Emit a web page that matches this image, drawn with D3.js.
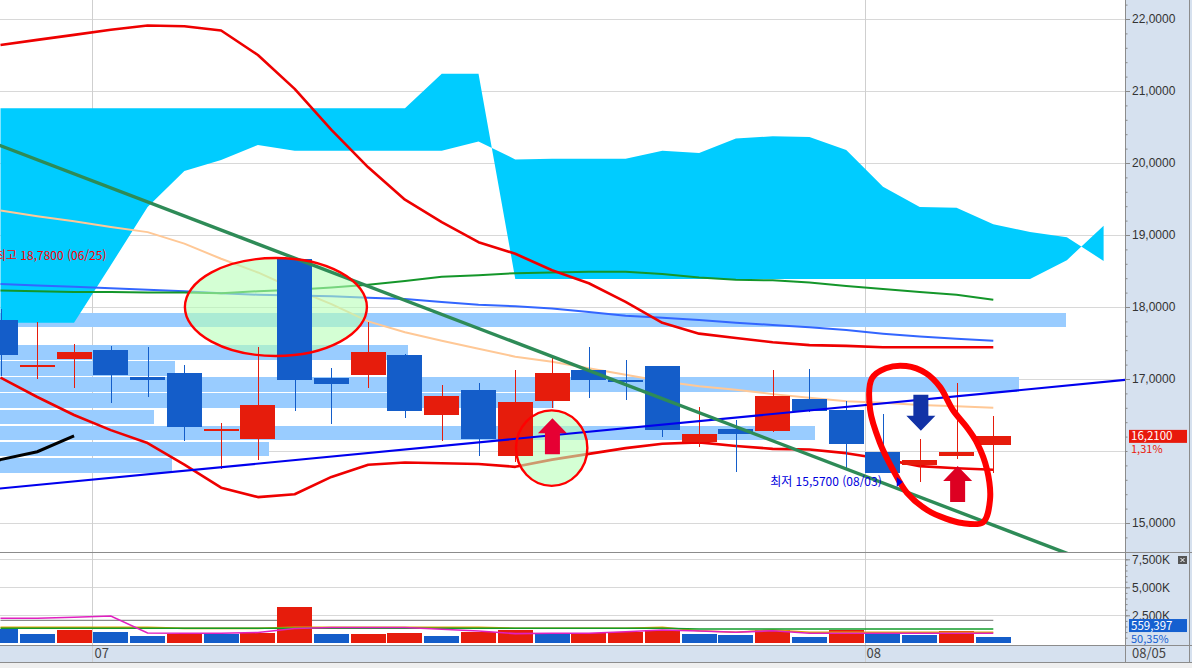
<!DOCTYPE html>
<html lang="ko">
<head>
<meta charset="UTF-8">
<title>Daily chart</title>
<script src="https://d3js.org/d3.v7.min.js"></script>
<style>
    html, body { margin: 0; padding: 0; background: #fff; overflow: hidden; }
    svg { display: block; font-family: "Noto Sans CJK KR", "Noto Sans", sans-serif; }
    .axis text { font-size: 12px; fill: #333; }
    .axis line { stroke: #888; }
</style>
</head>
<body>
<div id="chart"></div>
<script>
// ---- data ----
var dates = ["06/27","06/28","06/29","07/02","07/03","07/04","07/06","07/09","07/10","07/11",
             "07/12","07/13","07/16","07/17","07/18","07/19","07/20","07/23","07/24","07/25",
             "07/26","07/27","07/30","07/31","08/01","08/02","08/03","08/05"];
var open  = [17.82,17.19,17.28,17.40,17.03,17.08,16.30,16.16,18.67,17.01,17.05,17.33,16.50,16.85,15.93,16.69,17.13,16.99,17.18,16.12,16.31,16.28,16.72,16.57,15.99,15.80,15.93,16.08];
var high  = [17.97,17.79,17.49,17.46,17.44,17.19,16.39,17.44,18.67,17.15,17.79,17.35,16.92,16.94,17.13,17.29,17.44,17.26,17.18,16.61,16.43,17.13,17.14,16.69,16.51,16.16,16.95,16.48];
var low   = [17.04,17.00,16.88,16.67,16.75,16.14,15.75,15.88,16.55,16.38,16.87,16.46,16.14,15.93,15.85,16.60,16.73,16.71,16.20,16.05,15.71,16.26,16.54,15.77,15.70,15.57,15.89,15.69];
var close = [17.33,17.20,17.38,17.05,16.98,16.34,16.31,16.64,16.99,16.93,17.38,16.56,16.76,16.17,16.68,17.08,16.98,16.96,16.29,16.24,16.23,16.76,16.56,16.10,15.70,15.88,15.99,16.21];

// volume in thousands
var prevVolume = 1400;
var volume = [1277,830,1188,1009,652,857,850,920,3241,810,840,920,652,1009,1188,830,893,982,1188,830,770,1214,562,1188,830,741,1098,559.397];
var volMa5  = [2232,2232,2321,2438,920,893,893,964,1321,1411,1411,1411,1250,1098,866,893,893,1036,1188,1098,982,1125,893,893,893,893,893,893];
var volMa20 = [1429,1429,1429,1429,1429,1330,1330,1330,1429,1429,1429,1429,1429,1429,1339,1339,1339,1339,1429,1125,982,1188,982,982,982,982,982,982];
var volMa60 = [1339,1339,1339,1339,1339,1339,1339,1339,1339,1339,1339,1339,1339,1339,1339,1339,1339,1339,1339,1277,1277,1277,1277,1277,1277,1277,1277,1277];
var volLevel = 2054;

// envelope and moving averages
var bandUpper = [21.64,21.71,21.78,21.85,21.91,21.90,21.84,21.50,21.03,20.46,19.94,19.49,19.18,18.90,18.74,18.51,18.33,18.07,17.78,17.63,17.57,17.51,17.47,17.46,17.44,17.44,17.44,17.44];
var bandLower = [17.02,16.75,16.50,16.29,16.11,15.81,15.49,15.36,15.40,15.64,15.81,15.84,15.83,15.82,15.78,15.88,15.96,16.04,16.10,16.12,16.07,16.03,16.02,15.97,15.89,15.79,15.76,15.74];
var maBlue  = [18.32,18.30,18.28,18.26,18.24,18.22,18.19,18.17,18.16,18.15,18.13,18.11,18.07,18.03,18.01,17.98,17.93,17.88,17.85,17.82,17.78,17.75,17.72,17.68,17.63,17.59,17.56,17.53];
var maGreen = [18.23,18.22,18.21,18.21,18.20,18.20,18.19,18.22,18.24,18.27,18.31,18.36,18.42,18.44,18.47,18.48,18.49,18.49,18.46,18.41,18.38,18.37,18.34,18.29,18.25,18.21,18.17,18.10];
var maPeach = [19.34,19.26,19.19,19.11,19.04,18.88,18.67,18.48,18.25,18.04,17.80,17.65,17.53,17.42,17.31,17.24,17.15,17.06,16.97,16.90,16.85,16.79,16.74,16.69,16.67,16.64,16.62,16.60];
var laggingShift = 25;

// ichimoku cloud (runs 3 bars past the last candle)
var spanA = [17.78,17.78,17.78,18.58,19.39,19.89,20.04,20.25,20.17,20.17,20.17,20.17,20.17,20.30,20.05,20.06,20.06,20.06,20.17,20.14,20.34,20.37,20.36,20.18,19.67,19.39,19.38,19.15,19.04,18.97,18.64];
var spanB = [20.76,20.76,20.76,20.76,20.76,20.76,20.76,20.76,20.76,20.76,20.76,20.76,21.24,21.24,18.39,18.39,18.39,18.39,18.39,18.39,18.39,18.39,18.39,18.39,18.39,18.39,18.39,18.39,18.39,18.65,19.13];

// volume-by-price bars (bottom bin first)
var profileFrom = 15.69, profileTo = 17.93;
var profile = [16.1,25.2,76.5,14.4,52,95.6,16.4,38.3,0,100];

// trend lines (candle index, price)
var trendBlue  = [{i: 0, v: 15.48}, {i: 27, v: 16.81}];
var trendGreen = [{i: 0, v: 20.24}, {i: 27, v: 14.97}];

// ticks and labels
var priceTicks = [15,16,17,18,19,20,21,22];
var volTicks = [2500,5000,7500];
var periodHigh = {value: 18.78, date: "06/25"};
var periodLow  = {value: 15.57, date: "08/03"};
var changePct = "1,31%";
var volumeRaw = "559,397";
var volumePct = "50,35%";
var cursorDate = "08/05";

// hand-drawn annotations in (candle index, price)
var ellipses = [{cx: 7.49, cy: 18.00, rx: 2.475, ry: 0.68}, {cx: 14.99, cy: 16.04, rx: 0.97, ry: 0.524}];
var loop = [[23.70,17.01],[24.08,17.15],[24.63,17.18],[25.17,17.08],[25.55,16.89],[25.90,16.57],[26.28,16.33],
            [26.56,16.11],[26.83,15.74],[26.91,15.32],[26.72,15.01],[26.15,15.00],[25.71,15.06],[25.20,15.18],
            [24.65,15.42],[24.27,15.74],[23.92,16.11],[23.65,16.57]];
var arrows = [
    {i: 15.01, v: 16.455, dir: -1, color: "#e60033"},
    {i: 25.03, v: 16.28, dir: 1, color: "#1232a6"},
    {i: 26.03, v: 15.79, dir: -1, color: "#dd0022"}
];

// ---- layout ----
var W = 1192, H = 668;
var plotRight = 1125;
var paneSplit = 552, volBottom = 645, axisBottom = 662;
var RED = "#e61c0c", BLUE = "#145dc9";
var fmtPrice = function (d) { return d3.format(".4f")(d).replace(".", ","); };

var x = d3.scaleLinear().domain([0, 27]).range([0.5, 993.3]);
var y = d3.scaleLinear().domain([15, 22]).range([523, 19]);
var yv = d3.scaleLinear().domain([0, 7500]).range([643.3, 559.3]);
var barW = 35;

var svg = d3.select("#chart").append("svg").attr("width", W).attr("height", H);
var defs = svg.append("defs");
defs.append("clipPath").attr("id", "clipPrice").append("rect")
    .attr("x", 0).attr("y", 0).attr("width", plotRight).attr("height", paneSplit);
defs.append("clipPath").attr("id", "clipVol").append("rect")
    .attr("x", 0).attr("y", paneSplit).attr("width", plotRight).attr("height", volBottom - paneSplit);

// backgrounds
svg.append("rect").attr("width", W).attr("height", H).attr("fill", "#fff");
svg.append("rect").attr("x", plotRight).attr("y", 0).attr("width", W - plotRight).attr("height", axisBottom).attr("fill", "#d6e1ef");
svg.append("rect").attr("x", 0).attr("y", volBottom).attr("width", W).attr("height", axisBottom - volBottom).attr("fill", "#d6e1ef");
svg.append("rect").attr("x", 0).attr("y", axisBottom).attr("width", W).attr("height", H - axisBottom).attr("fill", "#efefef");

// grid
var grid = svg.append("g").attr("stroke", "#d8d8d8").attr("shape-rendering", "crispEdges");
grid.selectAll(".hp").data(priceTicks).join("line")
    .attr("x1", 0).attr("x2", plotRight).attr("y1", d => Math.round(y(d)) + 0.5).attr("y2", d => Math.round(y(d)) + 0.5);
grid.selectAll(".hv").data(volTicks).join("line")
    .attr("x1", 0).attr("x2", plotRight).attr("y1", d => Math.round(yv(d)) + 0.5).attr("y2", d => Math.round(yv(d)) + 0.5);
var monthStarts = [];
dates.forEach(function (d, i) {
    if (i > 0 && d.slice(0, 2) !== dates[i - 1].slice(0, 2)) monthStarts.push(i);
});
grid.selectAll(".vm").data(monthStarts).join("line")
    .attr("x1", d => Math.round(x(d - 0.5)) + 0.5).attr("x2", d => Math.round(x(d - 0.5)) + 0.5)
    .attr("y1", 0).attr("y2", axisBottom).attr("stroke", "#cfcfcf");

// ---- price pane, drawn in layers ----
var price = svg.append("g").attr("clip-path", "url(#clipPrice)");
var layerBands = price.append("g");
var layerCloud = price.append("g");
var layerLines = price.append("g");
var layerFill = price.append("g");
var layerCandles = price.append("g");
var layerTrend = price.append("g");
var layerAnno = price.append("g");

// volume-by-price bars
var binSize = (profileTo - profileFrom) / profile.length;
var profLen = d3.scaleLinear().domain([0, 100]).range([0, 1066]);
layerBands.attr("fill", "#99ccff").attr("shape-rendering", "crispEdges")
    .selectAll("rect").data(profile).join("rect")
    .attr("x", 0)
    .attr("y", (d, k) => y(profileFrom + (k + 1) * binSize) + 0.8)
    .attr("height", (d, k) => y(profileFrom + k * binSize) - y(profileFrom + (k + 1) * binSize) - 1.6)
    .attr("width", d => profLen(d));

// cloud
var idx = spanA.map((d, i) => i);
layerCloud.append("path").datum(idx)
    .attr("fill", "#00ccff")
    .attr("d", d3.area().x(i => x(i)).y0(i => y(spanA[i])).y1(i => y(spanB[i])));

// indicator lines
function seriesLine(values, color, width) {
    layerLines.append("path").datum(values)
        .attr("fill", "none").attr("stroke", color).attr("stroke-width", width)
        .attr("stroke-linejoin", "round")
        .attr("d", d3.line().x((d, i) => x(i)).y(d => y(d)));
}
seriesLine(maPeach, "#ffc896", 2);
seriesLine(maBlue, "#3366ff", 2);
seriesLine(maGreen, "#14962a", 2);
seriesLine(bandUpper, "#ee0000", 2.6);
seriesLine(bandLower, "#ee0000", 2.6);

// lagging span (closes shifted back)
var lag = close.map((c, j) => ({i: j - laggingShift, v: c})).filter(d => d.i >= -1);
layerLines.append("path").datum(lag)
    .attr("fill", "none").attr("stroke", "#000").attr("stroke-width", 3)
    .attr("d", d3.line().x(d => x(d.i)).y(d => y(d.v)));

// ellipse helpers
function ellipseAttrs(sel) {
    sel.attr("cx", d => x(d.cx)).attr("cy", d => y(d.cy))
        .attr("rx", d => x(d.cx + d.rx) - x(d.cx)).attr("ry", d => y(d.cy - d.ry) - y(d.cy));
}
layerFill.selectAll("ellipse").data(ellipses).join("ellipse")
    .call(ellipseAttrs)
    .attr("fill", "#b8ffb8").attr("fill-opacity", 0.6);

// candles
var candles = layerCandles.selectAll("g").data(close).join("g")
    .attr("fill", (d, i) => close[i] >= open[i] ? RED : BLUE)
    .attr("stroke", (d, i) => close[i] >= open[i] ? RED : BLUE)
    .attr("shape-rendering", "crispEdges");
candles.append("line")
    .attr("x1", (d, i) => Math.round(x(i)) + 0.5).attr("x2", (d, i) => Math.round(x(i)) + 0.5)
    .attr("y1", (d, i) => y(high[i])).attr("y2", (d, i) => y(low[i]))
    .attr("stroke-width", 1.6);
candles.append("rect")
    .attr("stroke", "none")
    .attr("x", (d, i) => x(i) - barW / 2).attr("width", barW)
    .attr("y", (d, i) => y(Math.max(open[i], close[i])))
    .attr("height", (d, i) => Math.max(2.5, Math.abs(y(open[i]) - y(close[i]))));

// trend lines
function trend(pts, color, width) {
    var slope = (pts[1].v - pts[0].v) / (pts[1].i - pts[0].i);
    var ends = [-2, 34].map(i => ({i: i, v: pts[0].v + slope * (i - pts[0].i)}));
    layerTrend.append("path").datum(ends)
        .attr("fill", "none").attr("stroke", color).attr("stroke-width", width)
        .attr("d", d3.line().x(d => x(d.i)).y(d => y(d.v)));
}
trend(trendBlue, "#0000ee", 2.2);
trend(trendGreen, "#2e8b57", 3.4);

// annotations
layerAnno.selectAll("ellipse").data(ellipses).join("ellipse")
    .call(ellipseAttrs)
    .attr("fill", "none").attr("stroke", "#ff0000").attr("stroke-width", 2.4);

layerAnno.append("path").datum(loop)
    .attr("fill", "none").attr("stroke", "#ff0000").attr("stroke-width", 6)
    .attr("stroke-linejoin", "round")
    .attr("d", d3.line().x(d => x(d[0])).y(d => y(d[1])).curve(d3.curveCatmullRomClosed.alpha(0.5)));

function arrowPath(a) {
    var tx = x(a.i), ty = y(a.v), L = 36, hl = 15, hw = 29, sw = 15;
    var s = -a.dir;
    var pts = [[tx, ty], [tx + hw / 2, ty + s * hl], [tx + sw / 2, ty + s * hl], [tx + sw / 2, ty + s * L],
               [tx - sw / 2, ty + s * L], [tx - sw / 2, ty + s * hl], [tx - hw / 2, ty + s * hl]];
    return "M" + pts.map(p => p.join(",")).join("L") + "Z";
}
layerAnno.append("g").selectAll("path").data(arrows).join("path")
    .attr("d", arrowPath).attr("fill", d => d.color);

// high / low labels
layerAnno.append("text")
    .attr("x", x(0) + 106).attr("y", y(periodHigh.value) + 9)
    .attr("text-anchor", "end").attr("fill", "#ff0000").style("font-size", "12px")
    .text("최고 " + fmtPrice(periodHigh.value) + " (" + periodHigh.date + ")");
var lowIdx = d3.minIndex(low);
layerAnno.append("text")
    .attr("x", x(lowIdx) - 38).attr("y", y(periodLow.value) + 4)
    .attr("text-anchor", "end").attr("fill", "#0000dd").style("font-size", "12px")
    .text("최저 " + fmtPrice(periodLow.value) + " (" + periodLow.date + ")");
var ly = y(periodLow.value);
layerAnno.append("path")
    .attr("d", "M" + (x(lowIdx) - 23) + "," + (ly - 5) + "L" + (x(lowIdx) - 17) + "," + ly + "L" + (x(lowIdx) - 23) + "," + (ly + 5) + "Z")
    .attr("fill", "#0000dd");

// ---- volume pane ----
var vol = svg.append("g").attr("clip-path", "url(#clipVol)");
vol.append("line").attr("x1", x(0)).attr("x2", x(27)).attr("y1", yv(volLevel)).attr("y2", yv(volLevel))
    .attr("stroke", "#8a8a8a").attr("stroke-width", 1.2);
vol.selectAll("rect").data(volume).join("rect")
    .attr("x", (d, i) => x(i) - barW / 2).attr("width", barW)
    .attr("y", d => yv(d)).attr("height", d => yv(0) - yv(d))
    .attr("fill", (d, i) => d >= (i === 0 ? prevVolume : volume[i - 1]) ? RED : BLUE)
    .attr("shape-rendering", "crispEdges");
function volLine(values, color) {
    vol.append("path").datum(values)
        .attr("fill", "none").attr("stroke", color).attr("stroke-width", 1.6)
        .attr("d", d3.line().x((d, i) => x(i)).y(d => yv(d)));
}
volLine(volMa20, "#e0a800");
volLine(volMa60, "#139a2b");
volLine(volMa5, "#e020c0");

// ---- frame lines ----
var frame = svg.append("g").attr("stroke", "#8c8c8c").attr("shape-rendering", "crispEdges");
frame.append("line").attr("x1", 0).attr("x2", W).attr("y1", paneSplit + 0.5).attr("y2", paneSplit + 0.5);
frame.append("line").attr("x1", 0).attr("x2", W).attr("y1", volBottom + 0.5).attr("y2", volBottom + 0.5);
frame.append("line").attr("x1", 0).attr("x2", W).attr("y1", axisBottom + 0.5).attr("y2", axisBottom + 0.5);
frame.append("line").attr("x1", plotRight + 0.5).attr("x2", plotRight + 0.5).attr("y1", 0).attr("y2", axisBottom);
frame.append("line").attr("x1", 1189.5).attr("x2", 1189.5).attr("y1", 0).attr("y2", axisBottom);

// ---- right axes ----
var minorPrice = d3.range(14.4, 22.3, 0.2).filter(d => y(d) > 2 && y(d) < paneSplit - 2);
svg.append("g").attr("class", "axis").attr("transform", "translate(" + plotRight + ",0)")
    .call(d3.axisRight(y).tickValues(minorPrice).tickSize(2.5).tickFormat(""))
    .call(g => g.select(".domain").remove());
svg.append("g").attr("class", "axis").attr("transform", "translate(" + plotRight + ",0)")
    .call(d3.axisRight(y).tickValues(priceTicks.filter(d => d !== 16)).tickSize(5).tickPadding(2).tickFormat(fmtPrice))
    .call(g => g.select(".domain").remove());

var minorVol = d3.range(500, 8001, 500).filter(d => yv(d) > paneSplit + 2);
svg.append("g").attr("class", "axis").attr("transform", "translate(" + plotRight + ",0)")
    .call(d3.axisRight(yv).tickValues(minorVol).tickSize(2.5).tickFormat(""))
    .call(g => g.select(".domain").remove());
svg.append("g").attr("class", "axis").attr("transform", "translate(" + plotRight + ",0)")
    .call(d3.axisRight(yv).tickValues(volTicks).tickSize(5).tickPadding(2).tickFormat(d => d3.format(",")(d) + "K"))
    .call(g => g.select(".domain").remove());

// current price box
var last = close[close.length - 1];
svg.append("rect").attr("x", 1129).attr("y", y(last) - 6).attr("width", 58).attr("height", 13).attr("fill", "#e8190c");
svg.append("text").attr("x", 1131).attr("y", y(last) + 0.5).attr("dy", "0.35em")
    .attr("fill", "#fff").style("font-size", "11.5px").text(fmtPrice(last));
svg.append("text").attr("x", 1131).attr("y", y(last) + 13.5).attr("dy", "0.35em")
    .attr("fill", "#e8190c").style("font-size", "11px").text(changePct);

// current volume box
var lastVol = volume[volume.length - 1];
svg.append("rect").attr("x", 1129).attr("y", yv(lastVol) - 18).attr("width", 58).attr("height", 13).attr("fill", "#1560d0");
svg.append("text").attr("x", 1131).attr("y", yv(lastVol) - 11.5).attr("dy", "0.35em")
    .attr("fill", "#fff").style("font-size", "11.5px").text(volumeRaw);
svg.append("text").attr("x", 1131).attr("y", yv(lastVol) + 2).attr("dy", "0.35em")
    .attr("fill", "#1560d0").style("font-size", "11px").text(volumePct);

// small close icon
svg.append("rect").attr("x", 1178).attr("y", 556).attr("width", 9).attr("height", 8).attr("fill", "#555");
svg.append("path").attr("d", "M1180.5,558L1184.5,562M1184.5,558L1180.5,562").attr("stroke", "#fff").attr("stroke-width", 1);

// ---- date axis ----
svg.append("g").selectAll("text").data(monthStarts).join("text")
    .attr("x", d => x(d - 0.5) + 2).attr("y", 658)
    .attr("fill", "#444").style("font-size", "13px")
    .text(d => dates[d].slice(0, 2));
svg.append("text").attr("x", 1132).attr("y", 658).attr("fill", "#444").style("font-size", "13px").text(cursorDate);
</script>
</body>
</html>
